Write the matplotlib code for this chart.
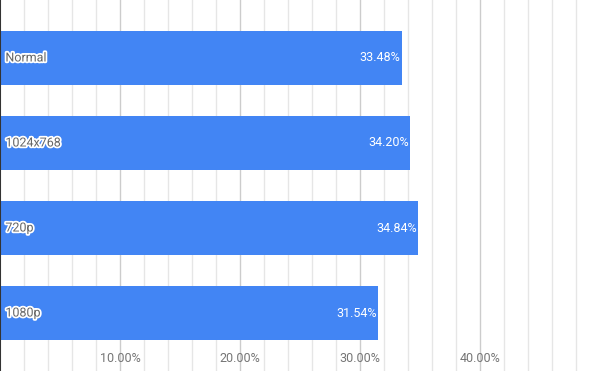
import matplotlib
matplotlib.use("Agg")
import matplotlib.pyplot as plt
import matplotlib.patheffects as pe
import numpy as np

categories = ["Normal", "1024x768", "720p", "1080p"]
values = [33.48, 34.20, 34.84, 31.54]
value_labels = ["33.48%", "34.20%", "34.84%", "31.54%"]
major_ticks = [10, 20, 30, 40]
major_labels = ["10.00%", "20.00%", "30.00%", "40.00%"]

plt.rcParams['font.family'] = ['Roboto', 'DejaVu Sans']

fig = plt.figure(figsize=(6, 3.71), dpi=100)
ax = fig.add_axes([0, 0, 1, 1])

y = np.arange(len(categories))
bars = ax.barh(y, values, height=0.635, color='#4285f4', zorder=3)

ax.set_xlim(0, 50)
ax.set_ylim(3.682, -0.682)

# grid
ax.set_xticks(major_ticks)
ax.set_xticklabels(major_labels)
ax.set_xticks(np.arange(2, 50, 2), minor=True)
ax.grid(True, which='major', axis='x', color='#cccccc', linewidth=1, zorder=0)
ax.grid(True, which='minor', axis='x', color='#e6e6e6', linewidth=1, zorder=0)
ax.set_yticks([])
ax.tick_params(axis='x', which='both', length=0)
ax.tick_params(axis='x', which='major', pad=-13.5, labelsize=9, labelcolor='#757575')

for s in ['top', 'right', 'bottom']:
    ax.spines[s].set_visible(False)
ax.spines['left'].set_color('#333333')
ax.spines['left'].set_linewidth(1.5)
ax.spines['left'].set_zorder(4)

for yi, cat, v, lab in zip(y, categories, values, value_labels):
    ax.text(0.45, yi, cat, va='center', ha='left', fontsize=9, color='#666666',
            zorder=5, path_effects=[pe.withStroke(linewidth=2.5, foreground='white')])
    ax.text(v - 0.1, yi, lab, va='center', ha='right', fontsize=9, color='white', zorder=5)

fig.savefig("out.png", dpi=100)
